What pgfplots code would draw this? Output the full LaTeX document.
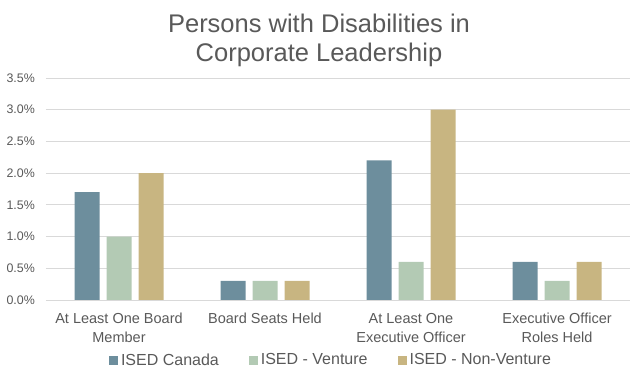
\documentclass[border=0pt]{standalone}
\usepackage{fontspec}
\setmainfont{Liberation Sans}
\usepackage{pgfplots}
\pgfplotsset{compat=1.18}
\definecolor{cA}{HTML}{6D8E9D}
\definecolor{cB}{HTML}{B3CAB4}
\definecolor{cC}{HTML}{C8B581}
\definecolor{txt}{HTML}{595959}
\definecolor{grd}{HTML}{D9D9D9}
\begin{document}
\begin{tikzpicture}
\path[use as bounding box] (0,0) rectangle (640bp,377bp);
\node[anchor=base, text=txt, font=\fontsize{25.5bp}{29bp}\selectfont] at (319bp,344bp) {Persons with Disabilities in};
\node[anchor=base, text=txt, font=\fontsize{25.5bp}{29bp}\selectfont] at (319bp,315bp) {Corporate Leadership};
\begin{axis}[
  at={(46bp,77bp)}, anchor=south west,
  scale only axis, width=584bp, height=222bp,
  ybar=7bp, bar width=25bp,
  xmin=-0.5, xmax=3.5, ymin=0, ymax=3.5,
  xtick={0,1,2,3},
  xticklabels={{At Least One Board\\Member},{Board Seats Held},{At Least One\\Executive Officer},{Executive Officer\\Roles Held}},
  ytick={0,0.5,1,1.5,2,2.5,3,3.5},
  /pgf/number format/assume math mode=true,
  yticklabel={\pgfmathprintnumber[fixed,fixed zerofill,precision=1]{\tick}\%},
  ymajorgrids, grid style={draw=grd, line width=0.9bp},
  axis x line*=bottom,
  axis y line*=left,
  y axis line style={draw=none},
  x axis line style={draw=grd, line width=0.9bp, -},
  major tick length=0pt,
  yticklabel style={anchor=east, inner sep=0pt, xshift=-11bp, text=txt, font=\fontsize{12.4bp}{14bp}\selectfont},
  xticklabel style={anchor=north, inner sep=0pt, yshift=-13bp, align=center, text=txt, font=\fontsize{14.5bp}{19bp}\selectfont},
  legend columns=3,
  legend style={at={(0.488,0)}, anchor=center, yshift=-60bp, draw=none, fill=none,
    text=txt, font=\fontsize{16bp}{18bp}\selectfont,
    /tikz/every odd column/.append style={column sep=1bp},
    /tikz/every even column/.append style={column sep=28bp}},
  legend image code/.code={\fill[#1] (0bp,-4.5bp) rectangle (9bp,4.5bp);},
]
\addplot[fill=cA, draw=none] coordinates {(0,1.7) (1,0.3) (2,2.2) (3,0.6)};
\addplot[fill=cB, draw=none] coordinates {(0,1.0) (1,0.3) (2,0.6) (3,0.3)};
\addplot[fill=cC, draw=none] coordinates {(0,2.0) (1,0.3) (2,3.0) (3,0.6)};
\legend{ISED Canada, ISED - Venture, ISED - Non-Venture}
\end{axis}
\end{tikzpicture}
\end{document}
